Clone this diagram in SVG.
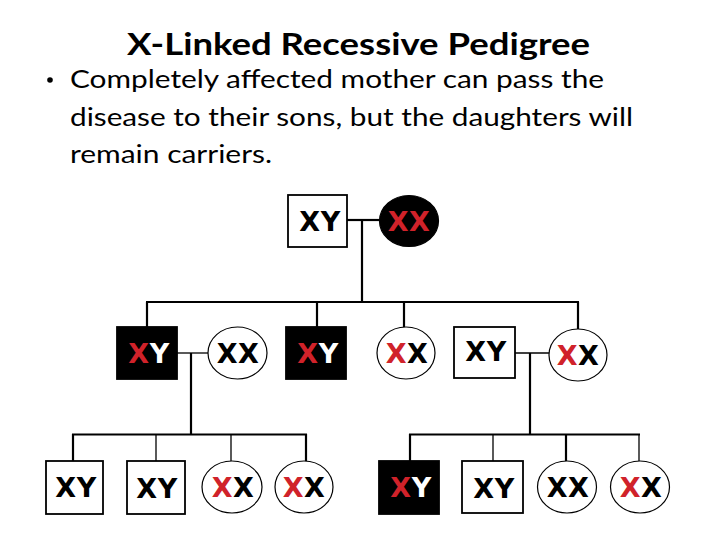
<svg xmlns="http://www.w3.org/2000/svg" width="720" height="540" viewBox="0 0 720 540">
<style>
.title{font-family:Lato,"Open Sans","Liberation Sans",sans-serif;font-weight:bold;font-size:31px;fill:#000}
.body{font-family:Lato,"Open Sans","Liberation Sans",sans-serif;font-size:25px;fill:#000}
.sq{fill:#fff;stroke:#000;stroke-width:1.8}
.sqa{fill:#000;stroke:#000;stroke-width:1.8}
.ci{fill:#fff;stroke:#000;stroke-width:1.2}
.cia{fill:#000;stroke:#000;stroke-width:1.2}
.lbl{font-family:"DejaVu Sans",Verdana,sans-serif;font-weight:bold;font-size:27px;letter-spacing:0.5px;text-anchor:middle}
.k{fill:#000}.r{fill:#d0222a}.w{fill:#fff}
.ln{stroke:#000;stroke-width:2.2;fill:none}
.lt{stroke:#000;stroke-width:1.3;fill:none}
</style>
<rect width="720" height="540" fill="#fff"/>
<text class="title" x="127" y="55" textLength="463" lengthAdjust="spacingAndGlyphs">X-Linked Recessive Pedigree</text>
<circle cx="50" cy="80" r="2.8" fill="#000"/>
<text class="body" x="70" y="88" textLength="534" lengthAdjust="spacingAndGlyphs">Completely affected mother can pass the</text>
<text class="body" x="70" y="126" textLength="563" lengthAdjust="spacingAndGlyphs">disease to their sons, but the daughters will</text>
<text class="body" x="70" y="163" textLength="202" lengthAdjust="spacingAndGlyphs">remain carriers.</text>

<g id="connectors">
<line class="ln" x1="347" y1="220" x2="379" y2="220"/>
<line class="ln" x1="362" y1="220" x2="362" y2="302"/>
<line class="ln" x1="146" y1="302" x2="579" y2="302"/>
<line class="ln" x1="147" y1="302" x2="147" y2="327"/>
<line class="ln" x1="317" y1="302" x2="317" y2="327"/>
<line class="ln" x1="404" y1="302" x2="404" y2="327"/>
<line class="ln" x1="578" y1="302" x2="578" y2="329"/>
<line class="lt" x1="177" y1="353" x2="208" y2="353"/>
<line class="ln" x1="191" y1="353" x2="191" y2="435"/>
<line class="lt" x1="515" y1="353" x2="549" y2="353"/>
<line class="ln" x1="530" y1="353" x2="530" y2="435"/>
<line class="ln" x1="72" y1="434.5" x2="307" y2="434.5"/>
<line class="ln" x1="73" y1="434" x2="73" y2="461"/>
<line class="lt" x1="156" y1="434" x2="156" y2="461"/>
<line class="lt" x1="231" y1="434" x2="231" y2="461"/>
<line class="ln" x1="306" y1="434" x2="306" y2="461"/>
<line class="ln" x1="409" y1="434.5" x2="640" y2="434.5"/>
<line class="ln" x1="410" y1="434" x2="410" y2="461"/>
<line class="lt" x1="493" y1="434" x2="493" y2="461"/>
<line class="ln" x1="566" y1="434" x2="566" y2="461"/>
<line class="lt" x1="639" y1="434" x2="639" y2="461"/>
</g>

<g id="g1-father"><rect class="sq" x="288" y="195" width="59" height="52"/><text class="lbl" x="320" y="231"><tspan class="k">XY</tspan></text></g>
<g id="g1-mother"><ellipse class="cia" cx="409" cy="221" rx="29.5" ry="25.5"/><text class="lbl" x="409" y="231"><tspan class="r">XX</tspan></text></g>

<g id="g2-son1"><rect class="sqa" x="117" y="327" width="60" height="52"/><text class="lbl" x="149" y="363"><tspan class="r">X</tspan><tspan class="w">Y</tspan></text></g>
<g id="g2-wife1"><ellipse class="ci" cx="237.5" cy="353" rx="29.5" ry="26"/><text class="lbl" x="238" y="363"><tspan class="k">XX</tspan></text></g>
<g id="g2-son2"><rect class="sqa" x="286" y="327" width="60" height="52"/><text class="lbl" x="318" y="363"><tspan class="r">X</tspan><tspan class="w">Y</tspan></text></g>
<g id="g2-daughter1"><ellipse class="ci" cx="406" cy="353" rx="29" ry="26"/><text class="lbl" x="407" y="363"><tspan class="r">X</tspan><tspan class="k">X</tspan></text></g>
<g id="g2-husband"><rect class="sq" x="454" y="327" width="61" height="51"/><text class="lbl" x="486" y="361"><tspan class="k">XY</tspan></text></g>
<g id="g2-daughter2"><ellipse class="ci" cx="578" cy="355" rx="29" ry="26"/><text class="lbl" x="578" y="365"><tspan class="r">X</tspan><tspan class="k">X</tspan></text></g>

<g id="g3-a"><rect class="sq" x="46" y="461" width="57" height="53"/><text class="lbl" x="76" y="497"><tspan class="k">XY</tspan></text></g>
<g id="g3-b"><rect class="sq" x="127" y="461" width="58" height="53"/><text class="lbl" x="157" y="498"><tspan class="k">XY</tspan></text></g>
<g id="g3-c"><ellipse class="ci" cx="232" cy="487" rx="30" ry="26"/><text class="lbl" x="233" y="497"><tspan class="r">X</tspan><tspan class="k">X</tspan></text></g>
<g id="g3-d"><ellipse class="ci" cx="304" cy="487" rx="29" ry="26"/><text class="lbl" x="304" y="497"><tspan class="r">X</tspan><tspan class="k">X</tspan></text></g>
<g id="g3-e"><rect class="sqa" x="379" y="461" width="60" height="53"/><text class="lbl" x="411" y="497"><tspan class="r">X</tspan><tspan class="w">Y</tspan></text></g>
<g id="g3-f"><rect class="sq" x="462" y="461" width="61" height="52"/><text class="lbl" x="494" y="498"><tspan class="k">XY</tspan></text></g>
<g id="g3-g"><ellipse class="ci" cx="567" cy="487" rx="29.5" ry="26"/><text class="lbl" x="568" y="497"><tspan class="k">XX</tspan></text></g>
<g id="g3-h"><ellipse class="ci" cx="640" cy="487" rx="29.5" ry="26"/><text class="lbl" x="641" y="497"><tspan class="r">X</tspan><tspan class="k">X</tspan></text></g>
</svg>
